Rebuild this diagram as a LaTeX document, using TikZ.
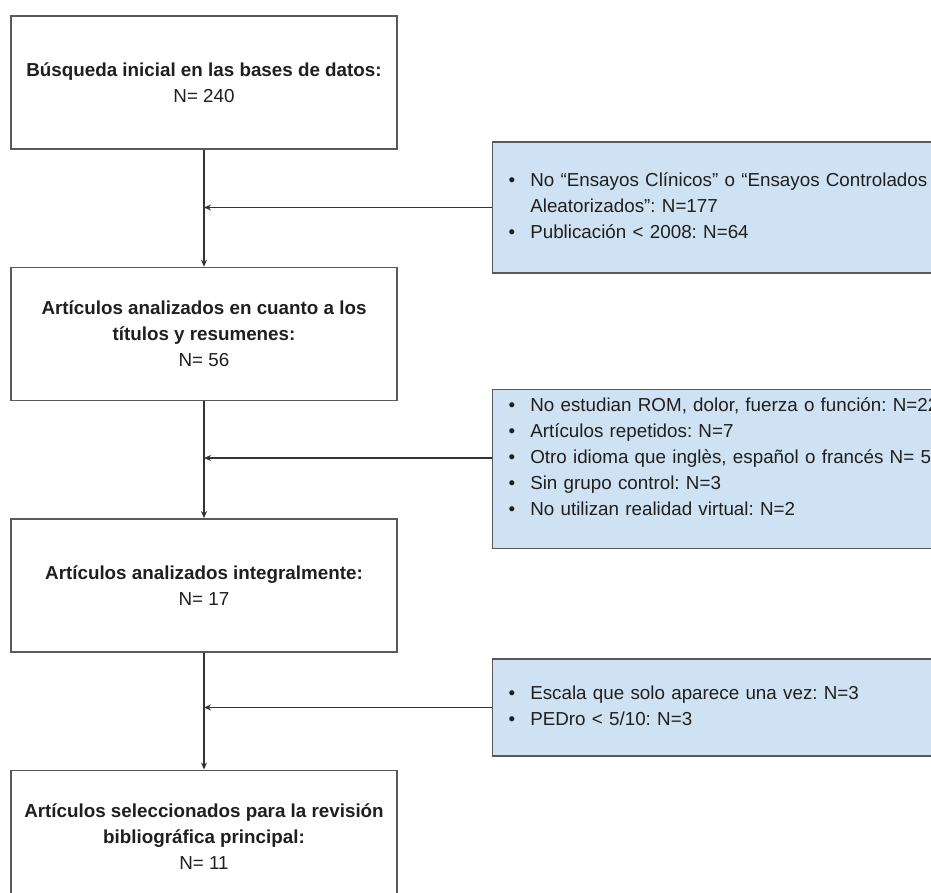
\documentclass[tikz,border=0pt]{standalone}
\usepackage{fontspec}
\setmainfont{Liberation Sans}
\usetikzlibrary{positioning, arrows.meta}
\frenchspacing

\definecolor{exclfill}{HTML}{CFE2F3}
\definecolor{boxline}{HTML}{595959}
\definecolor{inktext}{HTML}{1F1F1F}

\begin{document}
\begin{tikzpicture}[
        x=1pt, y=-1pt,
        % Stage boxes: left column
        stage/.style={
                rectangle, draw=boxline, line width=1.4pt, fill=white,
                minimum width=386pt, minimum height=133pt,
                align=center, text=inktext,
                font=\fontsize{18.8pt}{26pt}\selectfont
            },
        % Exclusion boxes: right column
        excl/.style={
                rectangle, draw=boxline, line width=1.4pt, fill=exclfill,
                anchor=west, text width=440pt, inner xsep=16pt, align=left,
                text=inktext,
                font=\fontsize{18.8pt}{26pt}\selectfont
            },
        % Arrow style
        >={Stealth[length=7pt, width=6pt]},
        flow/.style={->, line width=1.3pt, draw=black!80}
    ]

    \useasboundingbox (0,0) rectangle (931,893);
    \clip (0,0) rectangle (931,893);

    %% ---- Stages ----
    \node[stage] (busq) at (204,82.5)
    {\textbf{Búsqueda inicial en las bases de datos:}\\N= 240};
    \node[stage, below=117pt of busq] (titulos)
    {\textbf{Artículos analizados en cuanto a los}\\\textbf{títulos y resumenes:}\\N= 56};
    \node[stage, below=117pt of titulos] (integral)
    {\textbf{Artículos analizados integralmente:}\\N= 17};
    \node[stage, below=117pt of integral] (selec)
    {\textbf{Artículos seleccionados para la revisión}\\\textbf{bibliográfica principal:}\\N= 11};

    %% ---- Exclusions ----
    \node[excl, minimum height=131pt] (excl1) at (492,207.5)
    {\begin{tabular}{@{}l@{\hspace{15pt}}l@{}}
            \textbullet & No “Ensayos Clínicos” o “Ensayos Controlados \\
                        & Aleatorizados”: N=177                         \\
            \textbullet & Publicación < 2008: N=64
        \end{tabular}};
    \node[excl, minimum height=156pt] (excl2) at (492,469)
    {\begin{tabular}{@{}l@{\hspace{15pt}}l@{}}
            \textbullet & No estudian ROM, dolor, fuerza o función: N=22 \\
            \textbullet & Artículos repetidos: N=7                       \\
            \textbullet & Otro idioma que inglès, español o francés N= 5 \\
            \textbullet & Sin grupo control: N=3                         \\
            \textbullet & No utilizan realidad virtual: N=2              \\[22pt]
        \end{tabular}};
    \node[excl, minimum height=97pt] (excl3) at (492,707.5)
    {\begin{tabular}{@{}l@{\hspace{15pt}}l@{}}
            \textbullet & Escala que solo aparece una vez: N=3 \\
            \textbullet & PEDro < 5/10: N=3
        \end{tabular}};

    %% ---- Main flow ----
    \draw[flow] (busq) -- (titulos);
    \draw[flow] (titulos) -- (integral);
    \draw[flow] (integral) -- (selec);

    %% ---- Exclusion arrows ----
    \coordinate (e2) at ([yshift=11pt]excl2.west);
    \draw[flow] (excl1.west) -- (excl1.west -| busq.south);
    \draw[flow] (e2) -- (e2 -| titulos.south);
    \draw[flow] (excl3.west) -- (excl3.west -| integral.south);

\end{tikzpicture}
\end{document}
